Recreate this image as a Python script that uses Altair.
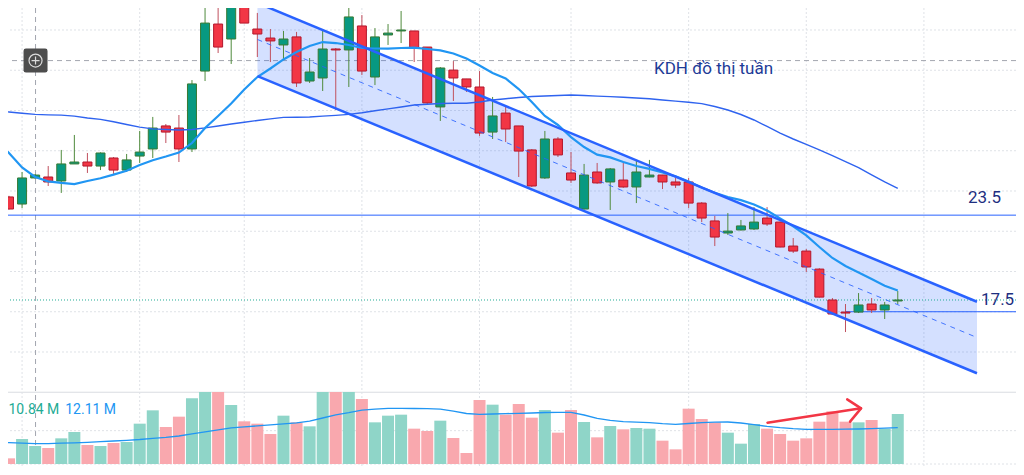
import altair as alt
import pandas as pd

# weekly candles, position k = -1 .. 68 (left to right)
k_idx = list(range(-1, 69))

opens = [24.31, 24.63, 24.19, 25.81, 25.87, 25.62, 26.68, 26.80, 26.55, 27.05,
         26.30, 27.17, 27.61, 29.04, 28.91, 27.61, 32.45, 35.37, 34.44, 36.55,
         35.06, 34.50, 34.07, 34.57, 31.83, 32.02, 33.82, 33.76, 35.25, 32.08,
         34.69, 34.94, 34.94, 33.94, 30.22, 32.51, 31.96, 31.46, 28.66, 29.84,
         29.04, 27.55, 25.81, 28.23, 26.12, 23.88, 26.18, 25.56, 25.68, 25.25,
         25.87, 25.99, 25.56, 25.56, 24.25, 23.14, 22.39, 22.58, 22.64, 23.32,
         23.07, 21.58, 21.27, 20.15, 18.23, 17.48, 17.48, 17.98, 17.61, 18.17]
highs = [24.70, 24.70, 26.18, 26.05, 26.55, 27.55, 28.48, 27.36, 27.40, 27.11,
         27.30, 28.73, 29.60, 29.16, 29.72, 31.89, 36.55, 37.17, 37.05, 37.11,
         36.06, 35.06, 34.94, 34.88, 33.26, 35.06, 33.88, 36.43, 35.93, 35.12,
         35.37, 36.18, 34.94, 33.94, 32.70, 33.07, 31.96, 32.45, 30.84, 30.22,
         29.04, 27.60, 28.73, 28.35, 27.42, 26.68, 26.74, 26.43, 26.74, 26.93,
         26.93, 26.00, 25.81, 25.81, 24.31, 23.45, 23.63, 23.20, 24.00, 24.00,
         23.10, 22.08, 21.40, 20.20, 18.35, 17.98, 18.66, 18.35, 18.11, 18.79]
lows = [24.20, 23.85, 23.94, 25.75, 25.31, 24.88, 26.68, 26.12, 26.30, 26.06,
        26.18, 26.74, 27.05, 27.98, 26.80, 27.42, 31.83, 33.57, 32.89, 35.43,
        33.32, 33.01, 33.14, 31.46, 31.71, 31.21, 30.03, 31.46, 32.20, 31.58,
        34.07, 34.19, 33.01, 30.40, 29.35, 30.59, 31.15, 28.42, 28.23, 28.04,
        25.87, 25.25, 25.75, 27.11, 25.50, 23.85, 25.45, 23.82, 25.20, 24.25,
        25.85, 25.12, 25.19, 23.94, 23.07, 21.58, 22.27, 22.55, 22.58, 22.83,
        21.50, 21.15, 19.97, 18.38, 17.30, 16.24, 17.42, 17.42, 17.05, 17.98]
closes = [24.63, 23.88, 25.81, 25.99, 25.56, 26.68, 26.80, 26.55, 27.36, 26.30,
          26.93, 27.42, 28.91, 28.66, 27.61, 31.65, 35.43, 33.94, 36.43, 35.43,
          34.75, 34.32, 34.44, 31.71, 32.39, 33.82, 33.76, 35.81, 32.45, 34.57,
          34.81, 35.00, 33.88, 30.47, 32.64, 32.02, 31.46, 28.60, 29.66, 28.85,
          27.48, 25.31, 28.23, 27.24, 25.68, 25.99, 25.50, 26.37, 25.25, 26.18,
          25.99, 25.56, 25.37, 24.25, 23.32, 22.14, 22.51, 22.83, 23.07, 22.95,
          21.52, 21.27, 20.28, 18.41, 17.36, 17.42, 17.92, 17.61, 17.92, 18.23]
# volume, million shares
volumes = [16.4, 3.4, 15.0, 10.8, 9.6, 15.4, 19.2, 11.4, 10.8, 12.6,
           13.2, 24.2, 32.2, 22.2, 28.4, 39.4, 52.0, 50.0, 35.4, 25.6,
           24.2, 18.0, 29.0, 25.0, 22.6, 47.0, 49.0, 46.0, 39.0, 25.0,
           29.0, 29.6, 21.2, 19.8, 26.0, 15.6, 6.6, 38.4, 35.6, 29.6,
           36.0, 27.8, 32.4, 18.8, 32.4, 25.2, 16.0, 22.8, 20.8, 21.6,
           21.2, 14.0, 8.8, 33.2, 27.0, 25.0, 18.8, 12.2, 24.0, 21.2,
           18.0, 14.0, 15.4, 25.4, 31.6, 25.4, 25.0, 26.4, 21.2, 30.0]
ma_short = [28.11, 27.36, 26.46, 25.87, 25.60, 25.50, 25.43, 25.62, 25.79, 26.02,
            26.26, 26.61, 26.91, 27.14, 27.39, 27.98, 28.91, 29.66, 30.43, 31.30,
            32.08, 32.61, 33.17, 33.63, 34.01, 34.25, 34.19, 34.07, 33.88, 33.85,
            33.84, 33.88, 33.91, 33.82, 33.73, 33.54, 33.23, 32.79, 32.33, 31.99,
            31.33, 30.53, 29.66, 29.10, 28.35, 27.73, 27.26, 27.09, 26.80, 26.55,
            26.37, 26.15, 25.91, 25.59, 25.22, 24.89, 24.63, 24.43, 24.16, 23.79,
            23.30, 22.81, 22.24, 21.52, 20.84, 20.34, 19.94, 19.53, 19.12, 18.82]
ma_long = [30.00, 29.91, 29.83, 29.76, 29.73, 29.71, 29.65, 29.53, 29.45, 29.30,
           29.13, 28.97, 28.86, 28.82, 28.79, 28.82, 28.92, 29.04, 29.16, 29.27,
           29.38, 29.48, 29.57, 29.58, 29.60, 29.65, 29.70, 29.76, 29.86, 29.98,
           30.10, 30.22, 30.34, 30.39, 30.43, 30.45, 30.45, 30.53, 30.65, 30.73,
           30.81, 30.87, 30.90, 30.93, 30.96, 30.93, 30.89, 30.86, 30.82, 30.78,
           30.73, 30.65, 30.58, 30.51, 30.43, 30.25, 30.03, 29.75, 29.41, 29.01,
           28.60, 28.23, 27.89, 27.56, 27.20, 26.83, 26.45, 26.00, 25.56, 25.17]
vol_ma = [13.2, 12.8, 12.5, 12.2, 12.2, 12.5, 12.7, 13.0, 13.4, 13.8,
          14.2, 14.7, 15.4, 16.0, 16.8, 18.1, 19.3, 20.5, 21.7, 22.3,
          22.9, 23.5, 24.1, 24.7, 25.7, 27.6, 29.5, 30.8, 32.3, 32.9,
          33.4, 33.4, 33.3, 33.2, 32.9, 31.7, 30.3, 29.8, 30.0, 30.2,
          30.4, 30.6, 30.9, 31.0, 31.0, 29.4, 27.4, 26.2, 25.4, 25.1,
          24.8, 24.2, 23.8, 24.3, 24.8, 25.1, 25.2, 24.6, 23.6, 22.6,
          21.8, 21.2, 20.8, 20.8, 20.8, 20.9, 21.0, 21.2, 21.5, 21.8]

# price channel drawing (two anchor points)
ch_k = [19.01, 74.06]
ch_upper = [36.68, 18.12]
ch_lower = [32.14, 13.68]
ch_mid = [34.41, 15.90]

# horizontal levels and labels
level_hi = 23.5
level_lo = 17.5
level_lo_start = 64
level_labels = ["23.5", "17.5"]
level_label_k = [73.37, 74.37]
level_label_p = [24.56, 18.20]

title_text = "KDH đồ thị tuần"
title_k, title_p = 49.35, 32.58

# crosshair (on candle k=2)
cross_k, cross_p = 2.03, 33.10
vol_legend = ["10.84 M", "12.11 M"]
vol_legend_k = [-0.04, 4.3]
vol_legend_v = 32.4

# red arrow over the volume pane
arrow_k = [58.03, 65.19, 64.13, 65.19, 64.35]
arrow_v = [24.8, 33.4, 38.8, 33.4, 25.4]
arrow_part = ["shaft", "shaft", "head", "head", "head"]

grid_k = [1, 10, 18, 27, 36, 43, 52, 61, 70]
grid_prices = [15.0, 17.5, 20.0, 22.5, 25.0, 27.5, 30.0, 32.5, 35.0]
pane_edge = 12.5
vol_grid = [0, 20]
vol_pane_top = 43.2

GREEN, RED = "#089981", "#f23645"
BLUE = "#2962ff"
NAVY = "#1e2f80"

candles = pd.DataFrame({"k": k_idx, "open": opens, "high": highs, "low": lows,
                        "close": closes, "vol": volumes, "ma_s": ma_short,
                        "ma_l": ma_long, "vol_ma": vol_ma})
candles["dir"] = ["up" if c >= o else "down" for o, c in zip(opens, closes)]

x_scale = alt.Scale(domain=[-0.0765, 77.046], nice=False, zero=False, padding=0)
p_scale = alt.Scale(domain=[7.857, 36.366], nice=False, zero=False, padding=0)
v_scale = alt.Scale(domain=[-1.8, 273.6], nice=False, zero=False, padding=0)
X = alt.X("k:Q", scale=x_scale, axis=None)


def py(field):
    return alt.Y(field, scale=p_scale, axis=None)


def vy(field):
    return alt.Y(field, scale=v_scale, axis=None)


def dir_scale(up, down):
    return alt.Scale(domain=["up", "down"], range=[up, down])


base = alt.Chart(candles)

# ---- price pane ----
hgrid = alt.Chart(pd.DataFrame({"p": grid_prices})).mark_rule(
    color="#dfe2e7", strokeDash=[2, 2], strokeWidth=1).encode(y=py("p:Q"))
edge = alt.Chart(pd.DataFrame({"p": [pane_edge]})).mark_rule(
    color="#dadce1", strokeWidth=1).encode(y=py("p:Q"))
vgrid = alt.Chart(pd.DataFrame({"k": grid_k})).mark_rule(
    color="#dfe2e7", strokeDash=[2, 2], strokeWidth=1).encode(x=X)

cross_df = pd.DataFrame({"k": [cross_k], "p": [cross_p]})
cross_v = alt.Chart(cross_df).mark_rule(
    color="#a3a6af", strokeDash=[5, 4], strokeWidth=1).encode(x=X)
cross_h = alt.Chart(cross_df).mark_rule(
    color="#a3a6af", strokeDash=[5, 4], strokeWidth=1).encode(y=py("p:Q"))

channel = pd.DataFrame({"k": ch_k, "upper": ch_upper, "lower": ch_lower, "mid": ch_mid})
ch_fill = alt.Chart(channel).mark_area(color=BLUE, opacity=0.2).encode(
    x=X, y=py("upper:Q"), y2="lower:Q")
ch_edges = alt.Chart(channel).transform_fold(
    ["upper", "lower"], as_=["edge", "p"]).mark_line(
    color=BLUE, strokeWidth=2.5).encode(x=X, y=py("p:Q"), detail="edge:N")
ch_middle = alt.Chart(channel).mark_line(
    color=BLUE, strokeWidth=1, strokeDash=[5, 5], opacity=0.85).encode(x=X, y=py("mid:Q"))

hi_line = alt.Chart(pd.DataFrame({"p": [level_hi]})).mark_rule(
    color=BLUE, strokeWidth=1).encode(y=py("p:Q"))
lo_line = alt.Chart(pd.DataFrame({"k": [level_lo_start], "k2": [90], "p": [level_lo]})).mark_rule(
    color=BLUE, strokeWidth=1, clip=True).encode(x=X, x2="k2:Q", y=py("p:Q"))
last_line = alt.Chart(pd.DataFrame({"p": [closes[-1]]})).mark_rule(
    color="#22ab94", strokeWidth=1, strokeDash=[1, 2]).encode(y=py("p:Q"))

wicks = base.mark_rule(strokeWidth=1).encode(
    x=X, y=py("low:Q"), y2="high:Q",
    color=alt.Color("dir:N", scale=dir_scale("#4f8a3c", "#c0505e"), legend=None))
bodies = base.mark_bar(size=9, strokeWidth=1).encode(
    x=X, y=py("open:Q"), y2="close:Q",
    fill=alt.Fill("dir:N", scale=dir_scale(GREEN, RED), legend=None),
    stroke=alt.Stroke("dir:N", scale=dir_scale("#397a33", "#b3172c"), legend=None))

ma_l_line = base.mark_line(color="#2f63ef", strokeWidth=1.4).encode(x=X, y=py("ma_l:Q"))
ma_s_line = base.mark_line(color="#2196f3", strokeWidth=2.2).encode(x=X, y=py("ma_s:Q"))

title = alt.Chart(pd.DataFrame({"k": [title_k], "p": [title_p], "t": [title_text]})).mark_text(
    align="left", baseline="middle", font="Roboto", fontSize=17, color="#1d3b97").encode(
    x=X, y=py("p:Q"), text="t:N")
levels = alt.Chart(pd.DataFrame({"k": level_label_k, "p": level_label_p, "t": level_labels})).mark_text(
    align="left", baseline="middle", font="Roboto", fontSize=17, color=NAVY).encode(
    x=X, y=py("p:Q"), text="t:N")

button = alt.Chart(cross_df).mark_point(
    shape="M-0.8,-1H0.8Q1,-1,1,-0.8V0.8Q1,1,0.8,1H-0.8Q-1,1,-1,0.8V-0.8Q-1,-1,-0.8,-1Z",
    size=576, filled=True, color="#4d4d4d", opacity=1).encode(x=X, y=py("p:Q"))
button_ring = alt.Chart(cross_df).mark_point(
    shape="circle", size=170, filled=False, color="#dcdcdc", strokeWidth=1.2, opacity=1).encode(
    x=X, y=py("p:Q"))
button_plus = alt.Chart(cross_df).mark_point(
    shape="M-1,0H1M0,-1V1", size=64, filled=False, color="#dcdcdc", strokeWidth=1.2, opacity=1).encode(
    x=X, y=py("p:Q"))

price = alt.layer(hgrid, edge, vgrid, cross_v, cross_h, ch_fill, hi_line, lo_line, last_line,
                  wicks, bodies, ma_l_line, ma_s_line, ch_edges, ch_middle, title, levels,
                  button, button_ring, button_plus)

# ---- volume pane ----
vgrid_lines = alt.Chart(pd.DataFrame({"v": vol_grid})).mark_rule(
    color="#dfe2e7", strokeDash=[2, 2], strokeWidth=1).encode(y=vy("v:Q"))
vol_bars = base.transform_calculate(
    vtop=f"min(datum.vol, {vol_pane_top})", vbase="0").mark_bar(size=12).encode(
    x=X, y=vy("vbase:Q"), y2="vtop:Q",
    color=alt.Color("dir:N", scale=dir_scale("#8fd5c8", "#f9a8ae"), legend=None))
vol_ma_line = base.mark_line(color="#2196f3", strokeWidth=1.4).encode(x=X, y=vy("vol_ma:Q"))

arrow = alt.Chart(pd.DataFrame({"k": arrow_k, "v": arrow_v, "part": arrow_part,
                                "o": list(range(len(arrow_k)))})).mark_line(
    color=RED, strokeWidth=2.5, strokeCap="round", strokeJoin="round").encode(
    x=X, y=vy("v:Q"), detail="part:N", order="o:Q")

vol_text = alt.Chart(pd.DataFrame({"k": vol_legend_k, "v": [vol_legend_v] * 2, "t": vol_legend,
                                   "c": ["#22ab94", "#2196f3"]})).mark_text(
    align="left", baseline="middle", font="Roboto", fontSize=14).encode(
    x=X, y=vy("v:Q"), text="t:N", color=alt.Color("c:N", scale=None))

volume = alt.layer(vgrid_lines, vol_bars, vol_ma_line, arrow, vol_text)

chart = alt.layer(price, volume).resolve_scale(y="independent", color="independent").properties(
    width=1008, height=459, padding=0, background="white",
    autosize=alt.AutoSizeParams(type="none")
).configure_view(strokeWidth=0)

chart.save("out.html", embed_options={"renderer": "svg", "actions": False})
